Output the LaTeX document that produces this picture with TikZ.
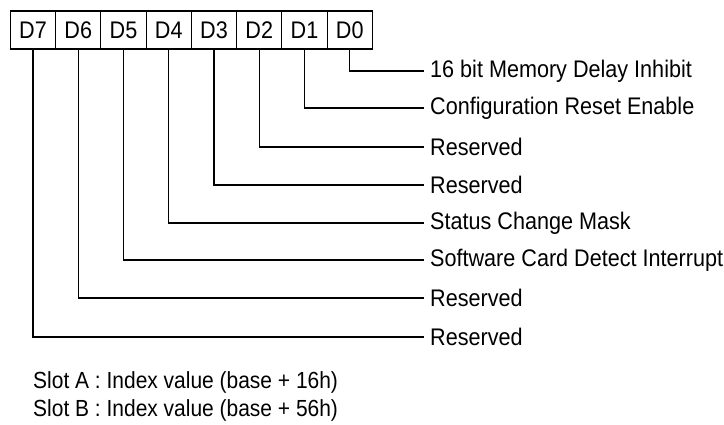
\documentclass[tikz,border=0pt]{standalone}
\usepackage{fontspec}
\setmainfont[FakeStretch=0.9]{Liberation Sans}
\usetikzlibrary{positioning}

\begin{document}
\begin{tikzpicture}[x=1pt,y=-1pt,
    bitbox/.style={draw,line width=1.2pt,minimum width=45.25pt,minimum height=38pt,outer sep=0pt,inner sep=0pt},
    desc/.style={anchor=west,inner xsep=6pt,inner ysep=0pt},
    lead/.style={line width=1.2pt},
    note/.style={anchor=west,inner sep=0pt,font=\fontsize{23.3}{27}\selectfont}]
      \useasboundingbox (0,0) rectangle (724,425);
      \fontsize{24}{28}\selectfont
      % register bits D7 .. D0, left to right
      \foreach \b in {7,...,0}{\node[bitbox] (d\b) at ({33+45.25*(7-\b)},30) {D\b};}
      % descriptions, one row every 38
      \node[desc] (l0) at (424,71) {16 bit Memory Delay Inhibit};
      \node[desc] (l1) at (424,108) {Configuration Reset Enable};
      \node[desc] (l2) at (424,147) {Reserved};
      \node[desc] (l3) at (424,185) {Reserved};
      \node[desc] (l4) at (424,223) {Status Change Mask};
      \node[desc] (l5) at (424,260) {Software Card Detect Interrupt};
      \node[desc] (l6) at (424,298) {Reserved};
      \node[desc] (l7) at (424,337) {Reserved};
      \foreach \b in {0,...,7}{\draw[lead] (d\b.south) |- (l\b.west);}
      \node[note] (slota) at (33,382) {Slot A : Index value (base + 16h)};
      \node[note] (slotb) at (33,410) {Slot B : Index value (base + 56h)};
    \end{tikzpicture}
\end{document}
